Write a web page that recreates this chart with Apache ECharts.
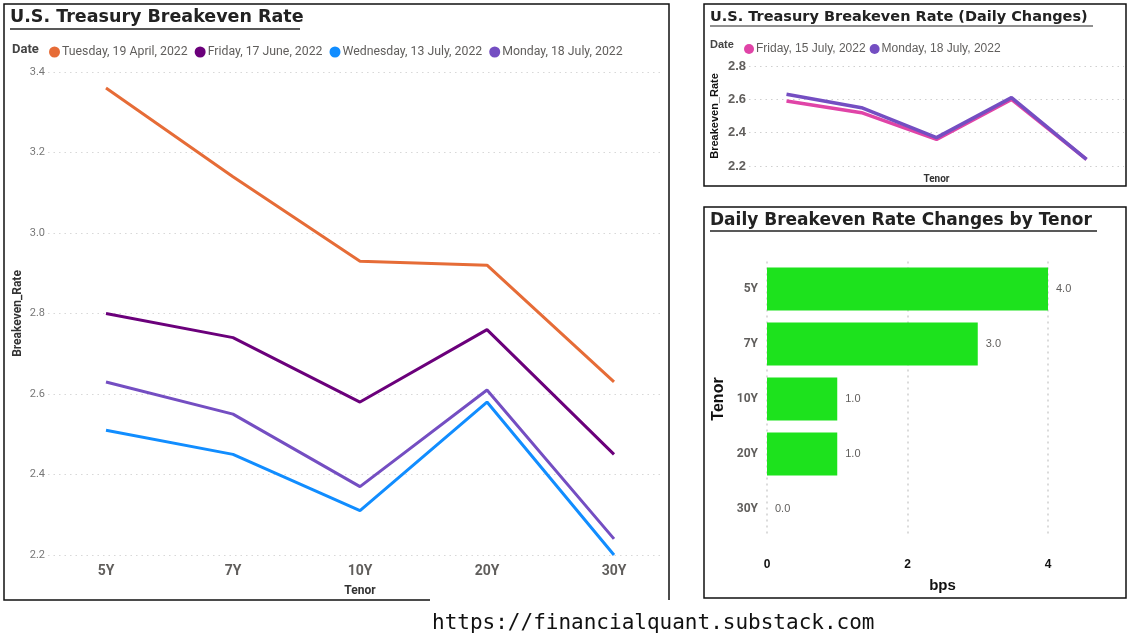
<!DOCTYPE html>
<html>
<head>
<meta charset="utf-8">
<script src="https://cdn.jsdelivr.net/npm/echarts@6/dist/echarts.min.js"></script>
<style>
  html, body { margin: 0; padding: 0; background: #fff; }
  #chart { width: 1141px; height: 643px; }
</style>
</head>
<body>
<div id="chart"></div>
<script>
var tenors = ["5Y", "7Y", "10Y", "20Y", "30Y"];
var dates = ["Tuesday, 19 April, 2022", "Friday, 17 June, 2022", "Wednesday, 13 July, 2022", "Monday, 18 July, 2022"];
var apr19 = [3.36, 3.14, 2.93, 2.92, 2.63];
var jun17 = [2.80, 2.74, 2.58, 2.76, 2.45];
var jul13 = [2.51, 2.45, 2.31, 2.58, 2.20];
var jul18 = [2.63, 2.55, 2.37, 2.61, 2.24];
var jul15 = [2.59, 2.52, 2.36, 2.60, 2.24];
var dailyDates = ["Friday, 15 July, 2022", "Monday, 18 July, 2022"];
var changeBps = [4, 3, 1, 1, 0];
var mainTicks = { min: 2.2, max: 3.4, interval: 0.2 };
var smallTicks = { min: 2.2, max: 2.8, interval: 0.2 };

var colors = {
  orange: "#E66C37",
  purple: "#6B007B",
  blue: "#118DFF",
  violet: "#744EC2",
  pink: "#E044A7",
  green: "#1DE21D"
};
var gray = "#605E5C";
var narrow = "Roboto, sans-serif";
var titleFont = "'DejaVu Sans', sans-serif";

var chart = echarts.init(document.getElementById("chart"), null, { renderer: "canvas" });

function line(name, data, color, x, y, width) {
  return {
    name: name,
    type: "line",
    xAxisIndex: x,
    yAxisIndex: y,
    data: data,
    symbol: "none",
    lineStyle: { color: color, width: width },
    itemStyle: { color: color },
    emphasis: { disabled: true }
  };
}

chart.setOption({
  animation: false,
  textStyle: { fontFamily: "'Liberation Sans', sans-serif" },
  grid: [
    { left: 42.5, width: 635, top: 72, height: 483 },   // main lines
    { left: 48, width: 612, top: 72, height: 483 },     // main gridlines
    { left: 749, width: 375, top: 66, height: 100 },    // daily lines
    { left: 767, width: 281, top: 261.5, height: 275 }  // bars
  ],
  legend: [
    {
      data: dates,
      left: 44,
      top: 41,
      icon: "circle",
      itemWidth: 11,
      itemHeight: 11,
      itemGap: 7,
      textStyle: { color: gray, fontSize: 12.3, fontFamily: narrow, padding: [0, 0, 0, -3] }
    },
    {
      data: dailyDates,
      left: 739,
      top: 38,
      icon: "circle",
      itemWidth: 10,
      itemHeight: 10,
      itemGap: 4,
      textStyle: { color: gray, fontSize: 12, padding: [0, 0, 0, -3] }
    }
  ],
  xAxis: [
    {
      gridIndex: 0,
      type: "category",
      data: tenors,
      axisLine: { show: false },
      axisTick: { show: false },
      axisLabel: { color: gray, fontSize: 14, fontWeight: "bold", fontFamily: narrow, margin: 9 },
      name: "Tenor",
      nameLocation: "middle",
      nameGap: 30,
      nameTextStyle: { color: "#333", fontSize: 12, fontWeight: "bold", fontFamily: narrow }
    },
    {
      gridIndex: 1,
      type: "value",
      show: false
    },
    {
      gridIndex: 2,
      type: "category",
      data: tenors,
      axisLine: { show: false },
      axisTick: { show: false },
      axisLabel: { show: false },
      name: "Tenor",
      nameLocation: "middle",
      nameGap: 8,
      nameTextStyle: { color: "#333", fontSize: 10, fontWeight: "bold", fontFamily: narrow }
    },
    {
      gridIndex: 3,
      type: "value",
      min: 0,
      max: 4,
      interval: 2,
      axisLine: { show: false },
      axisTick: { show: false },
      axisLabel: { color: "#111", fontSize: 12, fontWeight: "bold", margin: 22 },
      splitLine: { show: true, lineStyle: { color: "#cfcfcf", type: [2, 4], width: 1.5 } },
      name: "bps",
      nameLocation: "middle",
      nameGap: 42,
      nameTextStyle: { color: "#111", fontSize: 15, fontWeight: "bold", padding: [0, 0, 0, 70] }
    }
  ],
  yAxis: [
    {
      gridIndex: 0,
      type: "value",
      min: mainTicks.min,
      max: mainTicks.max,
      interval: mainTicks.interval,
      axisLabel: { show: false },
      axisLine: { show: false },
      axisTick: { show: false },
      splitLine: { show: false },
      name: "Breakeven_Rate",
      nameLocation: "middle",
      nameGap: 19,
      nameTextStyle: { color: "#333", fontSize: 12, fontWeight: "bold", fontFamily: narrow }
    },
    {
      gridIndex: 1,
      type: "value",
      min: mainTicks.min,
      max: mainTicks.max,
      interval: mainTicks.interval,
      axisLine: { show: false },
      axisTick: { show: false },
      axisLabel: { color: "#777", fontSize: 11, fontFamily: narrow, margin: 3, formatter: function (v) { return v.toFixed(1); } },
      splitLine: { show: true, lineStyle: { color: "#d8d8d8", type: [1.5, 4], width: 1.2 } }
    },
    {
      gridIndex: 2,
      type: "value",
      min: smallTicks.min,
      max: smallTicks.max,
      interval: smallTicks.interval,
      axisLine: { show: false },
      axisTick: { show: false },
      axisLabel: { color: gray, fontSize: 13, fontWeight: "bold", margin: 3, formatter: function (v) { return v.toFixed(1); } },
      splitLine: { show: true, lineStyle: { color: "#cfcfcf", type: [1.5, 4], width: 1.2 } },
      name: "Breakeven_Rate",
      nameLocation: "middle",
      nameGap: 29,
      nameTextStyle: { color: "#111", fontSize: 11, fontWeight: "bold" }
    },
    {
      gridIndex: 3,
      type: "category",
      data: tenors,
      inverse: true,
      axisLine: { show: false },
      axisTick: { show: false },
      axisLabel: { color: gray, fontSize: 12, fontWeight: "bold", fontFamily: narrow, margin: 9 },
      name: "Tenor",
      nameLocation: "middle",
      nameGap: 40,
      nameTextStyle: { color: "#111", fontSize: 16, fontWeight: "bold" }
    }
  ],
  series: [
    line(dates[0], apr19, colors.orange, 0, 0, 3),
    line(dates[1], jun17, colors.purple, 0, 0, 3),
    line(dates[2], jul13, colors.blue, 0, 0, 3),
    line(dates[3], jul18, colors.violet, 0, 0, 3),
    line(dailyDates[0], jul15, colors.pink, 2, 2, 3.5),
    line(dailyDates[1], jul18, colors.violet, 2, 2, 3.5),
    {
      name: "Change",
      type: "bar",
      xAxisIndex: 3,
      yAxisIndex: 3,
      data: changeBps,
      barWidth: 43,
      itemStyle: { color: colors.green },
      label: {
        show: true,
        position: "right",
        distance: 8,
        color: gray,
        fontSize: 11,
        formatter: function (p) { return p.value.toFixed(1); }
      }
    }
  ],
  graphic: [
    // panel frames
    {
      type: "polyline",
      shape: { points: [[430, 600], [4, 600], [4, 4], [669, 4], [669, 600]] },
      style: { stroke: "#111", lineWidth: 1.5, fill: null }
    },
    {
      type: "rect",
      shape: { x: 704, y: 4, width: 422, height: 182 },
      style: { stroke: "#111", lineWidth: 1.5, fill: null }
    },
    {
      type: "rect",
      shape: { x: 704, y: 207, width: 422, height: 391 },
      style: { stroke: "#111", lineWidth: 1.5, fill: null }
    },
    // titles
    {
      type: "text",
      left: 10,
      top: 8,
      style: { text: "U.S. Treasury Breakeven Rate", fill: "#222", font: "bold 17.5px " + titleFont }
    },
    { type: "line", shape: { x1: 10, y1: 29, x2: 300, y2: 29 }, style: { stroke: "#222", lineWidth: 1.5 } },
    {
      type: "text",
      left: 710,
      top: 10,
      style: { text: "U.S. Treasury Breakeven Rate (Daily Changes)", fill: "#222", font: "bold 14.5px " + titleFont }
    },
    { type: "line", shape: { x1: 710, y1: 26, x2: 1093, y2: 26 }, style: { stroke: "#222", lineWidth: 1.2 } },
    {
      type: "text",
      left: 710,
      top: 212,
      style: { text: "Daily Breakeven Rate Changes by Tenor", fill: "#222", font: "bold 17px " + titleFont }
    },
    { type: "line", shape: { x1: 710, y1: 231, x2: 1097, y2: 231 }, style: { stroke: "#222", lineWidth: 1.4 } },
    // legend headers
    {
      type: "text",
      left: 12,
      top: 43,
      style: { text: "Date", fill: "#444", font: "bold 13px Roboto, sans-serif" }
    },
    {
      type: "text",
      left: 710,
      top: 39,
      style: { text: "Date", fill: "#444", font: "bold 11px 'Liberation Sans', sans-serif" }
    },
    // footer link
    {
      type: "text",
      left: 432,
      top: 613,
      style: { text: "https://financialquant.substack.com", fill: "#111", font: "21px 'DejaVu Sans Mono', monospace" }
    }
  ]
});
</script>
</body>
</html>
